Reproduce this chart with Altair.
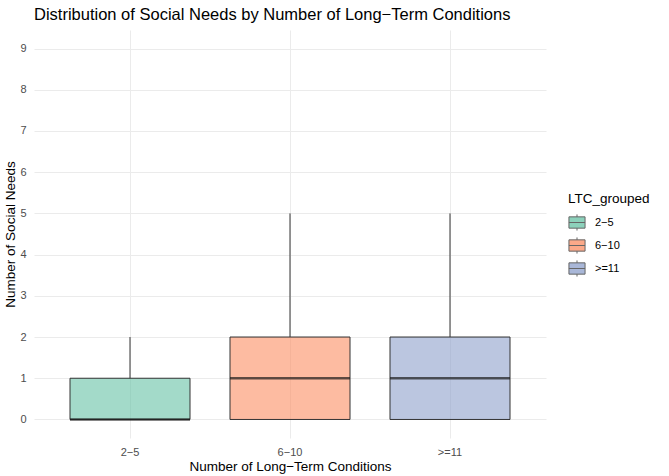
import altair as alt
import pandas as pd

groups = ["2−5", "6−10", ">=11"]
lower = [0, 0, 0]
q1 = [0, 0, 0]
median = [0, 1, 1]
q3 = [1, 2, 2]
upper = [2, 5, 5]
colors = ["#66C2A5", "#FC8D62", "#8DA0CB"]
y_ticks = [i * 0.5 for i in range(19)]

df = pd.DataFrame({"group": groups, "lower": lower, "q1": q1, "median": median,
                   "q3": q3, "upper": upper})

FONT = "Liberation Sans"

xscale = alt.Scale(domain=groups, paddingInner=0.25, paddingOuter=0.225)
yscale = alt.Scale(domain=[-0.45, 9.45], nice=False, zero=False)
cscale = alt.Scale(domain=groups, range=colors)

xaxis = alt.Axis(title="Number of Long−Term Conditions", grid=True, bandPosition=0.5,
                 gridColor="#EBEBEB", gridWidth=1, domain=False, ticks=False,
                 labelAngle=0, labelAlign="center", labelColor="#4D4D4D", labelFontSize=11,
                 labelPadding=8, titleFontSize=13.5, titleFontWeight="normal",
                 titleColor="#000000", titlePadding=2, labelFont=FONT, titleFont=FONT)
yaxis = alt.Axis(title="Number of Social Needs", values=y_ticks,
                 labelExpr="datum.value % 1 == 0 ? datum.label : ''",
                 grid=True, gridColor="#EBEBEB",
                 gridWidth={"condition": {"test": "datum.value % 1 != 0", "value": 0.6}, "value": 1.1},
                 domain=False, ticks=False, labelColor="#4D4D4D", labelFontSize=11,
                 labelPadding=8, titleFontSize=13.5, titleFontWeight="normal",
                 titleColor="#000000", titlePadding=2, labelFont=FONT, titleFont=FONT)

base = alt.Chart(df)

box_symbol = "M-1,-0.7H1V0.7H-1Z M-1,0H1 M0,-0.7V-1 M0,0.7V1"

box = base.mark_bar(stroke="#333333", strokeWidth=1, fillOpacity=0.6).encode(
    x=alt.X("group:N", scale=xscale, axis=xaxis, sort=groups),
    y=alt.Y("q1:Q", scale=yscale, axis=yaxis),
    y2="q3:Q",
    fill=alt.Fill("group:N", scale=cscale, sort=groups,
                  legend=alt.Legend(title="LTC_grouped", orient="none", legendX=534,
                                    legendY=162, symbolType=box_symbol, symbolSize=260,
                                    symbolStrokeColor="#333333", symbolStrokeWidth=1,
                                    symbolOpacity=0.75, labelOffset=9,
                                    titleFontSize=13.5, titleFontWeight="normal",
                                    titleColor="#000000", labelFontSize=11,
                                    labelColor="#000000", rowPadding=1, titlePadding=8,
                                    labelFont=FONT, titleFont=FONT)),
)

upper_whisker = base.mark_rule(color="#333333", strokeWidth=1).encode(
    x=alt.X("group:N", scale=xscale, sort=groups),
    y=alt.Y("q3:Q", scale=yscale),
    y2="upper:Q",
)
lower_whisker = base.mark_rule(color="#333333", strokeWidth=1).encode(
    x=alt.X("group:N", scale=xscale, sort=groups),
    y=alt.Y("lower:Q", scale=yscale),
    y2="q1:Q",
)

med = base.mark_tick(color="#1a1a1a", thickness=2.5, size=120, orient="horizontal").encode(
    x=alt.X("group:N", scale=xscale, sort=groups),
    y=alt.Y("median:Q", scale=yscale),
)

chart = alt.layer(box, lower_whisker, upper_whisker, med).properties(
    width=512, height=408,
    title=alt.TitleParams("Distribution of Social Needs by Number of Long−Term Conditions",
                          anchor="start", frame="group", fontSize=16.5, fontWeight="normal",
                          color="#000000", offset=7, font=FONT),
    autosize=alt.AutoSizeParams(type="none"),
    padding={"left": 34, "top": 30, "right": 123, "bottom": 38},
    background="white",
).configure_view(strokeWidth=0, stroke="transparent")

chart.save("out.html", embed_options={"renderer": "svg", "actions": False})
